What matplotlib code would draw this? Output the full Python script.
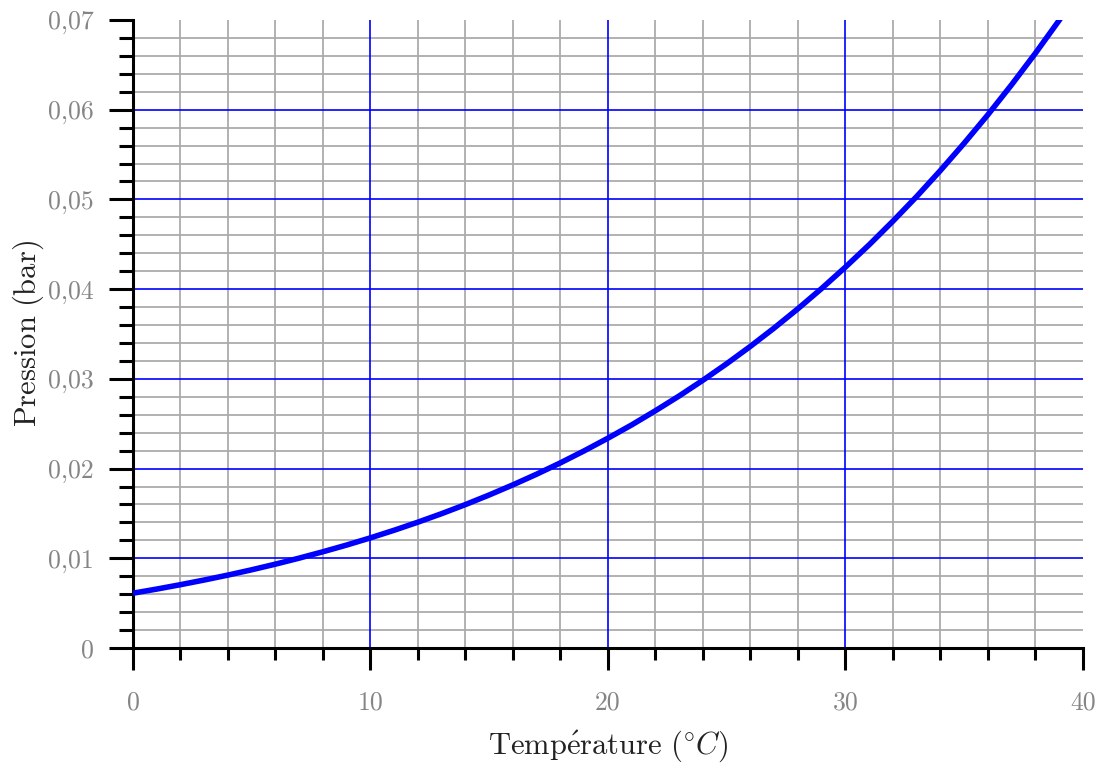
import numpy as np
import matplotlib
matplotlib.use("Agg")
import matplotlib.pyplot as plt
from matplotlib.ticker import MultipleLocator, FuncFormatter

plt.rcParams['font.family'] = ['cmr10', 'DejaVu Serif']
plt.rcParams['mathtext.fontset'] = 'cm'
plt.rcParams['axes.formatter.use_mathtext'] = True

# temperature (degC) and saturation vapour pressure (bar)
temp = [0, 1, 2, 3, 4, 5, 6, 7, 8, 9, 10, 11, 12, 13, 14, 15, 16, 17, 18, 19, 20,
        21, 22, 23, 24, 25, 26, 27, 28, 29, 30, 31, 32, 33, 34, 35, 36, 37, 38, 39, 40]
pression = [0.00611, 0.00657, 0.00706, 0.00758, 0.00813, 0.00872, 0.00935, 0.01002,
            0.01073, 0.01148, 0.01228, 0.01313, 0.01403, 0.01498, 0.01599, 0.01706,
            0.01819, 0.01938, 0.02064, 0.02198, 0.02339, 0.02487, 0.02645, 0.02810,
            0.02985, 0.03169, 0.03363, 0.03567, 0.03782, 0.04008, 0.04246, 0.04495,
            0.04758, 0.05033, 0.05323, 0.05627, 0.05945, 0.06280, 0.06630, 0.06997,
            0.07381]

# blue grid lines (inside the frame only)
grid_x = [10, 20, 30]
grid_y = [0.01, 0.02, 0.03, 0.04, 0.05, 0.06]

fig = plt.figure(figsize=(11, 7.63), dpi=100)
ax = fig.add_axes([0.1209, 0.1507, 0.8636, 0.8231])

ax.plot(temp, pression, color='#0000ff', lw=4, zorder=3, solid_capstyle='butt')

ax.set_xlim(0, 40)
ax.set_ylim(0, 0.07)
ax.xaxis.set_major_locator(MultipleLocator(10))
ax.xaxis.set_minor_locator(MultipleLocator(2))
ax.yaxis.set_major_locator(MultipleLocator(0.01))
ax.yaxis.set_minor_locator(MultipleLocator(0.002))


def fmt(v, pos):
    if abs(v) < 1e-9:
        return '0'
    return ('%.2f' % v).replace('.', ',')


ax.yaxis.set_major_formatter(FuncFormatter(fmt))
ax.xaxis.set_major_formatter(FuncFormatter(lambda v, p: '%d' % round(v)))

# gray grid every 2 degC / 0.002 bar, blue one on the major values
ax.grid(which='minor', color='#ababab', lw=1.3, zorder=1)
ax.vlines(grid_x, 0, 0.07, color='#0000ff', lw=1.2, zorder=2)
ax.hlines(grid_y, 0, 40, color='#0000ff', lw=1.2, zorder=2)
ax.set_axisbelow(True)

for s in ['top', 'right']:
    ax.spines[s].set_visible(False)
for s in ['left', 'bottom']:
    ax.spines[s].set_linewidth(2.2)

ax.tick_params(axis='y', which='major', length=17, width=2.2, pad=11,
               labelsize=18.5, labelcolor='#858585')
ax.tick_params(axis='y', which='minor', length=10, width=2.2)
ax.tick_params(axis='x', which='major', length=16, width=2.2, pad=15,
               labelsize=18.5, labelcolor='#858585')
ax.tick_params(axis='x', which='minor', length=8.6, width=2.2)

ax.set_xlabel(r'$\mathrm{Temp\acute{e}rature\ (}^{\circ}C\mathrm{)}$', fontsize=22,
              color='#222222', labelpad=10)
ax.set_ylabel(r'$\mathrm{Pression\ (bar)}$', fontsize=22, color='#222222', labelpad=1.5)

fig.savefig('out.png', dpi=100)
